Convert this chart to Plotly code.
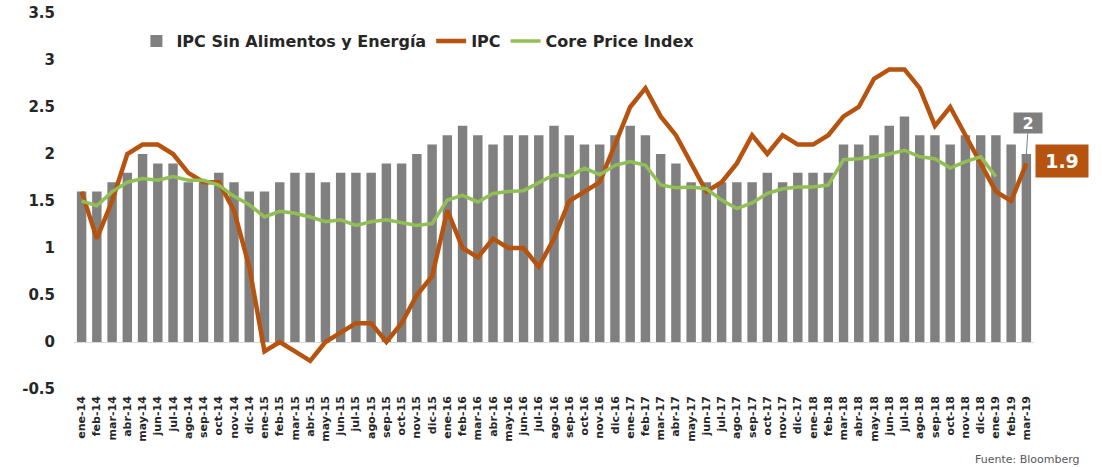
import plotly.graph_objects as go

months = ["ene", "feb", "mar", "abr", "may", "jun", "jul", "ago", "sep", "oct", "nov", "dic"]
categories = [f"{m}-{y}" for y in ["14", "15", "16", "17", "18", "19"] for m in months][:63]

core_cpi = [1.6, 1.6, 1.7, 1.8, 2.0, 1.9, 1.9, 1.7, 1.7, 1.8, 1.7, 1.6,
            1.6, 1.7, 1.8, 1.8, 1.7, 1.8, 1.8, 1.8, 1.9, 1.9, 2.0, 2.1,
            2.2, 2.3, 2.2, 2.1, 2.2, 2.2, 2.2, 2.3, 2.2, 2.1, 2.1, 2.2,
            2.3, 2.2, 2.0, 1.9, 1.7, 1.7, 1.7, 1.7, 1.7, 1.8, 1.7, 1.8,
            1.8, 1.8, 2.1, 2.1, 2.2, 2.3, 2.4, 2.2, 2.2, 2.1, 2.2, 2.2,
            2.2, 2.1, 2.0]

ipc = [1.6, 1.1, 1.5, 2.0, 2.1, 2.1, 2.0, 1.8, 1.7, 1.7, 1.4, 0.8,
       -0.1, 0.0, -0.1, -0.2, 0.0, 0.1, 0.2, 0.2, 0.0, 0.2, 0.5, 0.7,
       1.4, 1.0, 0.9, 1.1, 1.0, 1.0, 0.8, 1.1, 1.5, 1.6, 1.7, 2.1,
       2.5, 2.7, 2.4, 2.2, 1.9, 1.6, 1.7, 1.9, 2.2, 2.0, 2.2, 2.1,
       2.1, 2.2, 2.4, 2.5, 2.8, 2.9, 2.9, 2.7, 2.3, 2.5, 2.2, 1.9,
       1.6, 1.5, 1.9]

core_pce = [1.5, 1.45, 1.6, 1.7, 1.74, 1.72, 1.76, 1.72, 1.72, 1.67, 1.55, 1.46,
            1.33, 1.39, 1.37, 1.33, 1.28, 1.3, 1.24, 1.28, 1.3, 1.27, 1.24, 1.26,
            1.51, 1.56, 1.49, 1.58, 1.6, 1.61, 1.7, 1.78, 1.76, 1.85, 1.78, 1.88,
            1.92, 1.88, 1.67, 1.64, 1.65, 1.63, 1.51, 1.42, 1.48, 1.58, 1.63, 1.65,
            1.65, 1.67, 1.94, 1.95, 1.97, 2.0, 2.04, 1.97, 1.95, 1.85, 1.92, 1.97,
            1.76]

y_ticks = [-0.5, 0, 0.5, 1, 1.5, 2, 2.5, 3, 3.5]
y_ticktext = ["-0.5", "0", "0.5", "1", "1.5", "2", "2.5", "3", "3.5"]

BAR = "#808080"
BROWN = "#B5530F"
GREEN = "#92BF55"
FONT = "DejaVu Sans"
TXT = "#262626"

fig = go.Figure()
fig.add_trace(go.Bar(x=categories, y=core_cpi, name="IPC Sin Alimentos y Energía",
                     marker=dict(color=BAR, line=dict(width=0))))
fig.add_trace(go.Scatter(x=categories, y=ipc, name="IPC", mode="lines",
                         line=dict(color=BROWN, width=4.5)))
fig.add_trace(go.Scatter(x=categories[:len(core_pce)], y=core_pce, name="Core Price Index",
                         mode="lines", line=dict(color=GREEN, width=3.5)))

fig.add_annotation(x=categories[-1], y=core_cpi[-1], xref="x", yref="y",
                   text="2", showarrow=True, arrowhead=0, arrowwidth=1,
                   arrowcolor="#7f7f7f", ax=2, ay=-31, bgcolor="#7f7f7f",
                   width=26, height=18, align="center",
                   font=dict(family=FONT, size=16, color="white", weight="bold"),
                   borderpad=1)
fig.add_annotation(x=categories[-1], y=ipc[-1], xref="x", yref="y",
                   text="1.9", showarrow=False, xshift=36, yshift=2,
                   width=42, height=22, align="center",
                   bgcolor=BROWN, font=dict(family=FONT, size=19, color="white", weight="bold"),
                   borderpad=5)
fig.add_annotation(x=1.0, y=0, xref="paper", yref="paper", xanchor="right",
                   yanchor="top", text="Fuente: Bloomberg", showarrow=False,
                   xshift=48, yshift=-62,
                   font=dict(family=FONT, size=11, color="#595959"))

fig.update_layout(
    width=1102, height=467,
    margin=dict(l=74, r=68, t=13, b=78, autoexpand=False),
    paper_bgcolor="white", plot_bgcolor="white",
    bargap=0.38,
    showlegend=True,
    legend=dict(orientation="h", x=0.065, y=0.925, xanchor="left", yanchor="middle",
                font=dict(family=FONT, size=16, color=TXT, weight="bold"),
                bgcolor="rgba(0,0,0,0)", itemwidth=30, tracegroupgap=0),
    font=dict(family=FONT),
)
fig.update_xaxes(type="category", tickangle=-90, showgrid=False, showline=False,
                 ticks="", automargin=False, range=[-0.5, len(categories) - 0.5],
                 tickfont=dict(family=FONT, size=11, color=TXT, weight="bold"),
                 ticklabelstandoff=4)
fig.update_yaxes(range=[-0.5, 3.5], tickvals=y_ticks, ticktext=y_ticktext,
                 showgrid=False, zeroline=True, zerolinecolor="#d9d9d9", zerolinewidth=1,
                 showline=False, ticks="", ticklabelstandoff=18, automargin=False,
                 ticklabeloverflow="allow",
                 tickfont=dict(family=FONT, size=15, color=TXT, weight="bold"))

fig.write_html("out.html", config={"displayModeBar": False},
               post_script="document.body.style.margin='0';")
